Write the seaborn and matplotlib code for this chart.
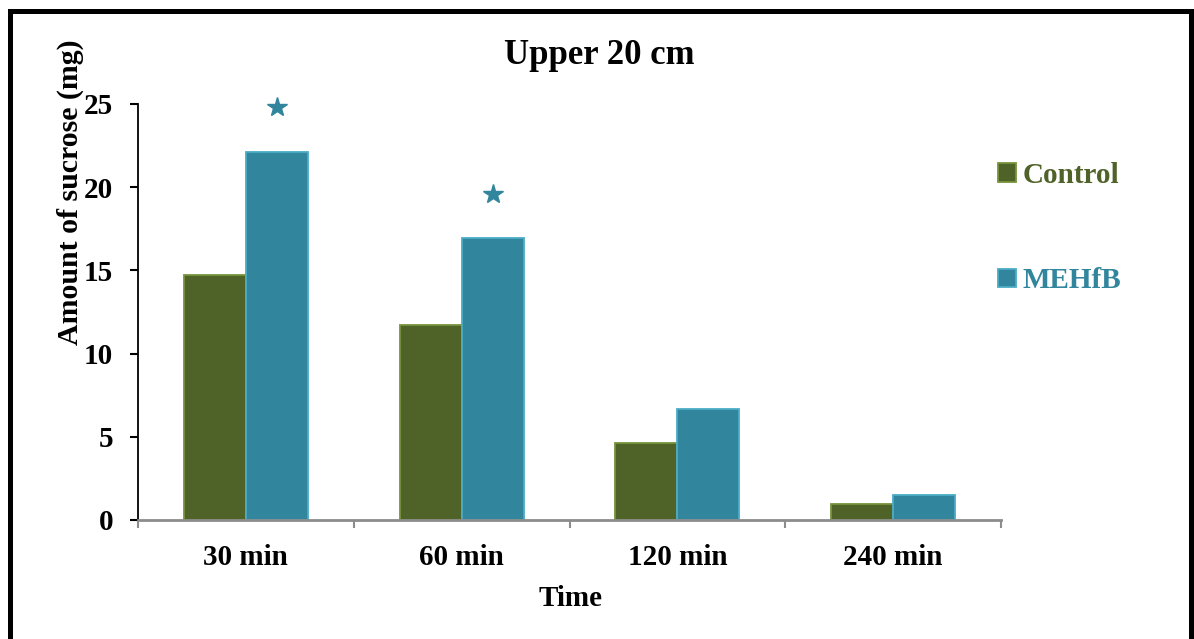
import matplotlib
matplotlib.use("Agg")
import matplotlib.pyplot as plt
from matplotlib.lines import Line2D
from matplotlib.patches import Patch
import pandas as pd
import seaborn as sns

# Sucrose recovered (mg) per time point
times = ["30 min", "60 min", "120 min", "240 min"]
control = [14.72, 11.72, 4.63, 0.96]
mehfb = [22.1, 16.95, 6.67, 1.5]
groups = ["Control", "MEHfB"]
# Significance markers above the MEHfB bars (None = no marker)
star_levels = [24.8, 19.6, None, None]
y_ticks = [0, 5, 10, 15, 20, 25]

fill_colors = {"Control": "#4F6228", "MEHfB": "#31859C"}
edge_colors = {"Control": "#77933C", "MEHfB": "#4BACC6"}

df = pd.DataFrame({
    "Time": times * 2,
    "Sucrose": control + mehfb,
    "Group": [groups[0]] * len(times) + [groups[1]] * len(times),
})

sns.set_style("white")
plt.rcParams["font.family"] = ["Liberation Serif", "DejaVu Serif"]
plt.rcParams["font.weight"] = "bold"
plt.rcParams["text.color"] = "black"
plt.rcParams["xtick.labelcolor"] = "black"
plt.rcParams["ytick.labelcolor"] = "black"

W, H = 1194, 639
fig = plt.figure(figsize=(W / 100, H / 100), dpi=100)
ax = fig.add_axes([138 / W, 1 - 520 / H, (1001 - 138) / W, (520 - 104) / H])

sns.barplot(data=df, x="Time", y="Sucrose", hue="Group", order=times,
            hue_order=groups, palette=fill_colors, width=0.575,
            legend=False, ax=ax, saturation=1)

for grp, cont in zip(groups, ax.containers):
    for bar in cont:
        bar.set_edgecolor(edge_colors[grp])
        bar.set_linewidth(1.3)

# Stars over the MEHfB bars
for bar, lvl in zip(ax.containers[1], star_levels):
    if lvl is not None:
        ax.plot(bar.get_x() + bar.get_width() / 2, lvl, marker="*",
                markersize=15, color=fill_colors["MEHfB"], clip_on=False,
                linestyle="none")

ax.set_ylim(0, 25)
ax.set_xlim(-0.5, len(times) - 0.5)
ax.set_yticks(y_ticks)
ax.set_yticklabels([str(v) for v in y_ticks], fontsize=21, fontweight="bold",
                   color="black")
ax.set_xticks(range(len(times)))
ax.set_xticklabels(times, fontsize=21, fontweight="bold", color="black")
ax.set_xticks([i - 0.5 for i in range(len(times) + 1)], minor=True)
ax.tick_params(axis="x", which="major", length=0, pad=17)
ax.tick_params(axis="x", which="minor", length=6, width=1.5, color="#8C8C8C",
               direction="out", bottom=True)
ax.tick_params(axis="y", which="major", length=6, width=1.5, color="black",
               direction="out", pad=12, left=True)

for side in ["top", "right"]:
    ax.spines[side].set_visible(False)
ax.spines["left"].set_color("black")
ax.spines["left"].set_linewidth(1.3)
ax.spines["bottom"].set_color("#8C8C8C")
ax.spines["bottom"].set_linewidth(2)
ax.set_xlabel("")
ax.set_ylabel("")

fig.text(599.5 / W, 1 - 55 / H, "Upper 20 cm", ha="center", va="center",
         fontsize=25, fontweight="bold", color="black")
fig.text(571 / W, 1 - 598 / H, "Time", ha="center", va="center",
         fontsize=21, fontweight="bold", color="black")
fig.text(70 / W, 1 - 192 / H, "Amount of sucrose (mg)", ha="center",
         va="center", rotation=90, fontsize=21.5, fontweight="bold",
         color="black")

handles = [Patch(facecolor=fill_colors[g], edgecolor=edge_colors[g],
                 linewidth=1.3) for g in groups]
leg = fig.legend(handles, groups, loc="center left",
                 bbox_to_anchor=(998 / W, 1 - 228 / H), frameon=False,
                 prop={"size": 21, "weight": "bold"}, handlelength=0.6,
                 handleheight=0.6, handletextpad=0.25, labelspacing=2.7,
                 borderpad=0, borderaxespad=0)
for txt, g in zip(leg.get_texts(), groups):
    txt.set_color(fill_colors[g])

# Outer frame (open at the bottom edge)
x0, x1, yt = 9.5 / W, 1190.5 / W, 1 - 10.5 / H
fig.add_artist(Line2D([x0, x0, x1, x1], [-0.05, yt, yt, -0.05],
                      transform=fig.transFigure, color="black",
                      linewidth=3.6, solid_joinstyle="miter"))

fig.savefig("out.png", dpi=100)
